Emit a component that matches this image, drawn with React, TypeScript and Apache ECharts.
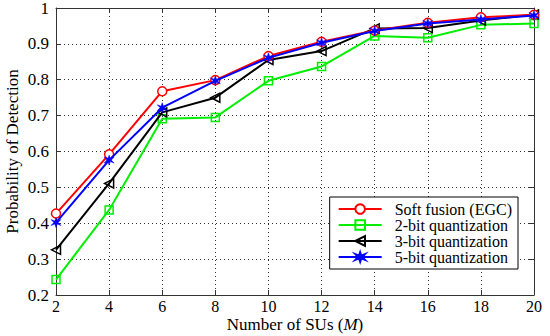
import React, { useEffect, useRef } from "react";
import * as echarts from "echarts";

const xValues = [2, 4, 6, 8, 10, 12, 14, 16, 18, 20];
const softFusion = [0.427, 0.592, 0.768, 0.799, 0.866, 0.906, 0.937, 0.959, 0.974, 0.981];
const bit2 = [0.243, 0.437, 0.691, 0.695, 0.797, 0.837, 0.922, 0.917, 0.953, 0.957];
const bit3 = [0.326, 0.511, 0.709, 0.750, 0.855, 0.880, 0.943, 0.944, 0.965, 0.982];
const bit5 = [0.402, 0.576, 0.722, 0.797, 0.861, 0.903, 0.936, 0.957, 0.968, 0.979];
const seriesNames = ["Soft fusion (EGC)", "2-bit quantization", "3-bit quantization", "5-bit quantization"];

const FONT = "Liberation Serif";
const STAR =
  "path://M50,0 L61,35 L96,20 L70,50 L96,80 L61,65 L50,100 L39,65 L4,80 L30,50 L4,20 L39,35 Z";

const pairs = (ys: number[]) => xValues.map((x, i) => [x, ys[i]]);

export default function App() {
  const ref = useRef<HTMLDivElement>(null);
  useEffect(() => {
    const chart = echarts.init(ref.current!, null, { renderer: "svg" });
    const axisLine = { show: true, lineStyle: { color: "#333", width: 1 } };
    const tick = { show: true, inside: true, length: 5, lineStyle: { color: "#333" } };
    const split = { show: true, lineStyle: { color: "#333", type: [1, 3], width: 1 } };
    const label = { color: "#000", fontFamily: FONT, fontSize: 17 };
    const common = {
      type: "line",
      lineWidth: 2,
      symbolSize: 8,
    };
    chart.setOption({
      animation: false,
      backgroundColor: "#fff",
      grid: { left: 56, right: 16, top: 8, bottom: 41, outerBoundsMode: "none", containLabel: false },
      legend: {
        right: 32,
        top: 197,
        orient: "vertical",
        backgroundColor: "#fff",
        borderColor: "#000",
        borderWidth: 1,
        borderRadius: 0,
        padding: [4, 6, 4, 8],
        itemWidth: 43,
        itemHeight: 12,
        itemGap: 0,
        textStyle: { color: "#000", fontFamily: FONT, fontSize: 16, lineHeight: 16, padding: [0, 0, 0, 8] },
        data: seriesNames,
      },
      xAxis: [
        {
          type: "value",
          min: 2,
          max: 20,
          interval: 2,
          name: "Number of SUs ({i|M})",
          nameLocation: "middle",
          nameGap: 21,
          nameMoveOverlap: false,
          nameTextStyle: {
            color: "#000",
            fontFamily: FONT,
            fontSize: 17,
            lineHeight: 17,
            rich: { i: { fontStyle: "italic", fontFamily: FONT, fontSize: 17, lineHeight: 17, color: "#000" } },
          },
          axisLine,
          axisTick: tick,
          axisLabel: { ...label, fontSize: 16, lineHeight: 16, margin: 3 },
          splitLine: split,
        },
        {
          type: "value",
          position: "top",
          min: 2,
          max: 20,
          interval: 2,
          axisLine,
          axisTick: tick,
          axisLabel: { show: false },
          splitLine: { show: false },
        },
      ],
      yAxis: [
        {
          type: "value",
          min: 0.2,
          max: 1,
          interval: 0.1,
          name: "Probability of Detection",
          nameLocation: "middle",
          nameGap: 35,
          nameMoveOverlap: false,
          nameTextStyle: { color: "#000", fontFamily: FONT, fontSize: 17 },
          axisLine,
          axisTick: tick,
          axisLabel: { ...label, margin: 7 },
          splitLine: split,
        },
        {
          type: "value",
          position: "right",
          min: 0.2,
          max: 1,
          interval: 0.1,
          axisLine,
          axisTick: tick,
          axisLabel: { show: false },
          splitLine: { show: false },
        },
      ],
      series: [
        {
          ...common,
          name: seriesNames[0],
          data: pairs(softFusion),
          symbol: "circle",
          symbolSize: 9,
          lineStyle: { color: "#ff0000", width: 2 },
          itemStyle: { color: "#fff", borderColor: "#ff0000", borderWidth: 1.5 },
          z: 5,
        },
        {
          ...common,
          name: seriesNames[1],
          data: pairs(bit2),
          symbol: "rect",
          symbolSize: 8,
          lineStyle: { color: "#00ee00", width: 2 },
          itemStyle: { color: "rgba(255,255,255,0)", borderColor: "#00ee00", borderWidth: 1.5 },
          z: 2,
        },
        {
          ...common,
          name: seriesNames[2],
          data: pairs(bit3),
          symbol: "triangle",
          symbolRotate: 90,
          symbolSize: 9,
          lineStyle: { color: "#000", width: 2 },
          itemStyle: { color: "rgba(255,255,255,0)", borderColor: "#000", borderWidth: 1.5 },
          z: 3,
        },
        {
          ...common,
          name: seriesNames[3],
          data: pairs(bit5),
          symbol: STAR,
          symbolSize: 10,
          lineStyle: { color: "#0000ff", width: 2 },
          itemStyle: { color: "#0000ff", borderColor: "#0000ff", borderWidth: 0.5 },
          z: 6,
        },
      ],
    });
    return () => chart.dispose();
  }, []);
  return <div ref={ref} style={{ width: 550, height: 336, position: "absolute", left: 0, top: 0 }} />;
}
